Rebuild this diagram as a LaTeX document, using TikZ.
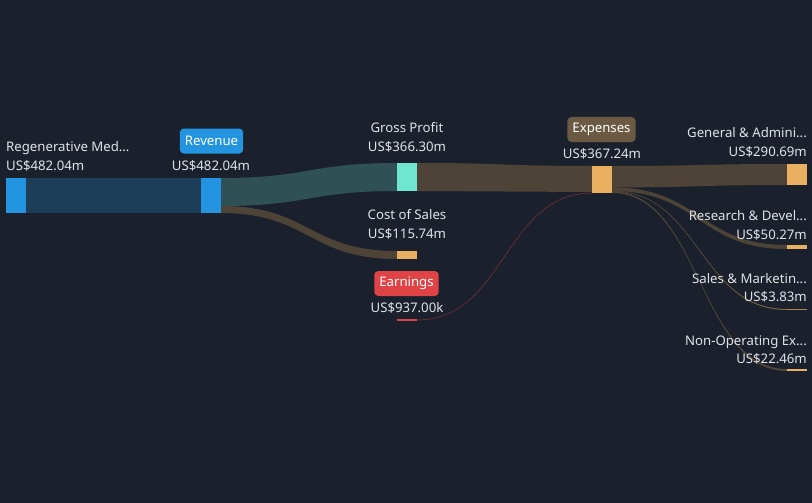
\documentclass[tikz,border=0pt]{standalone}
\usepackage{fontspec}
\setmainfont{Noto Sans}
\usetikzlibrary{calc}

\definecolor{bg}{HTML}{1B212C}
\definecolor{txtgray}{HTML}{DFE2E6}
\definecolor{barblue}{HTML}{2394DF}
\definecolor{bandblue}{HTML}{1E3D58}
\definecolor{bandteal}{HTML}{2F5156}
\definecolor{barmint}{HTML}{6FE6D2}
\definecolor{bandbrown}{HTML}{4D4437}
\definecolor{barorange}{HTML}{E8B060}
\definecolor{earnred}{HTML}{E04345}
\definecolor{expbadge}{HTML}{6B5A43}

\tikzset{
  bar/.style={draw=none, minimum width=20pt, inner sep=0pt, outer sep=0pt},
  lbl/.style={text=txtgray, font=\fontsize{13.2}{16}\selectfont, inner sep=0pt, anchor=base},
  badge/.style={rounded corners=4pt, text=white, font=\fontsize{13.2}{16}\selectfont,
    minimum height=25pt, inner xsep=5pt, inner ysep=0pt},
}

% ribbon between two pairs of points
\newcommand{\band}[5]{\fill[#5] (#1) .. controls +(88,0) and +(-88,0) .. (#3) -- (#4) .. controls +(-88,0) and +(88,0) .. (#2) -- cycle;}

\begin{document}
\begin{tikzpicture}[x=1pt, y=-1pt]
  % background
  \fill[bg] (0,0) rectangle (812,503);
  \useasboundingbox (0,0) rectangle (812,503);

  % the bars
  \path (16,195.5) node[bar, minimum height=35pt] (reg) {}
        (211,195.5) node[bar, minimum height=35pt] (rev) {}
        (407,177) node[bar, minimum height=28pt] (gp) {}
        (407,255) node[bar, minimum height=8pt] (cos) {}
        (407,320) node[bar, minimum height=1.5pt] (earn) {}
        (602,179.5) node[bar, minimum height=27pt] (exp) {}
        (797,174.5) node[bar, minimum height=21pt] (ga) {}
        (797,247) node[bar, minimum height=4pt] (rd) {}
        (797,309.5) node[bar, minimum height=1pt] (sm) {}
        (797,370) node[bar, minimum height=2pt] (nonop) {};

  % split points on the edges
  \coordinate (revmid) at ($(rev.north east)+(0,28)$);
  \coordinate (expin) at ($(exp.south west)+(0,-1)$);
  \coordinate (exp1) at ($(exp.north east)+(0,21.4)$);
  \coordinate (exp2) at ($(exp.north east)+(0,25.1)$);
  \coordinate (exp3) at ($(exp.north east)+(0,25.4)$);

  % flows
  \fill[bandblue] (reg.north east) rectangle (rev.south west);
  \band{rev.north east}{revmid}{gp.north west}{gp.south west}{bandteal}
  \band{revmid}{rev.south east}{cos.north west}{cos.south west}{bandbrown}
  \band{gp.north east}{gp.south east}{exp.north west}{expin}{bandbrown}
  \band{exp.north east}{exp1}{ga.north west}{ga.south west}{bandbrown}
  \band{exp1}{exp2}{rd.north west}{rd.south west}{bandbrown}
  \band{exp2}{exp3}{sm.north west}{sm.south west}{bandbrown!70!barorange}
  \band{exp3}{exp.south east}{nonop.north west}{nonop.south west}{bandbrown}
  \draw[earnred!45!bg, line width=0.6pt] (earn.east) .. controls +(88,0) and +(-88,0) .. (exp.south west);

  % bar colours on top
  \fill[barblue] (reg.north west) rectangle (reg.south east);
  \fill[barblue] (rev.north west) rectangle (rev.south east);
  \fill[barmint] (gp.north west) rectangle (gp.south east);
  \fill[barorange] (cos.north west) rectangle (cos.south east);
  \fill[earnred] (earn.north west) rectangle (earn.south east);
  \fill[barorange] (exp.north west) rectangle (exp.south east);
  \fill[barorange] (ga.north west) rectangle (ga.south east);
  \fill[barorange] (rd.north west) rectangle (rd.south east);
  \fill[barorange!70!bg] (sm.north west) rectangle (sm.south east);
  \fill[barorange] (nonop.north west) rectangle (nonop.south east);

  % badges
  \node[badge, fill=barblue] (revbadge) at (211.5,141) {Revenue};
  \node[badge, fill=earnred] (earnbadge) at (406.5,283.5) {Earnings};
  \node[badge, fill=expbadge] (expbadge) at (601.5,129.5) {Expenses};

  % labels
  \node[lbl, anchor=base west] (reglbl) at (6,151) {Regenerative Med...};
  \node[lbl, anchor=base west] (regval) at (6,170) {US\$482.04m};
  \node[lbl] (revval) at (211,170) {US\$482.04m};
  \node[lbl] (gplbl) at (407,132) {Gross Profit};
  \node[lbl] (gpval) at (407,151.5) {US\$366.30m};
  \node[lbl] (coslbl) at (407,219) {Cost of Sales};
  \node[lbl] (cosval) at (407,238) {US\$115.74m};
  \node[lbl] (earnval) at (407,312.5) {US\$937.00k};
  \node[lbl] (expval) at (602,158) {US\$367.24m};
  \node[lbl, anchor=base east] (galbl) at (807,138) {General \& Admini...};
  \node[lbl, anchor=base east] (gaval) at (807,156.5) {US\$290.69m};
  \node[lbl, anchor=base east] (rdlbl) at (807,220) {Research \& Devel...};
  \node[lbl, anchor=base east] (rdval) at (807,239) {US\$50.27m};
  \node[lbl, anchor=base east] (smlbl) at (807,283) {Sales \& Marketin...};
  \node[lbl, anchor=base east] (smval) at (807,301.5) {US\$3.83m};
  \node[lbl, anchor=base east] (nonlbl) at (807,345) {Non-Operating Ex...};
  \node[lbl, anchor=base east] (nonval) at (807,363) {US\$22.46m};
\end{tikzpicture}
\end{document}
